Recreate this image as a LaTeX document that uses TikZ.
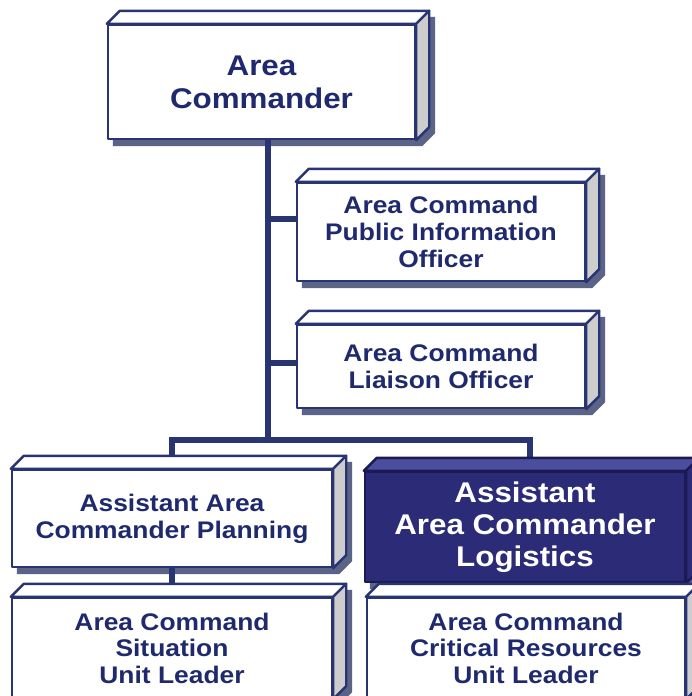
\documentclass[tikz,border=0pt]{standalone}
\usepackage{fontspec}
\setmainfont{Liberation Sans}[FakeStretch=1.1]
\usetikzlibrary{calc}

\definecolor{navytext}{HTML}{1F2A6E}
\definecolor{boxline}{HTML}{283572}
\definecolor{darkline}{HTML}{1B1A55}
\definecolor{darkfill}{HTML}{2C2B78}
\definecolor{darktop}{HTML}{4B4D9D}
\definecolor{sidegray}{HTML}{CDCDCD}
\definecolor{shadecol}{HTML}{5B6386}

\pgfdeclarelayer{shadows}
\pgfdeclarelayer{links}
\pgfsetlayers{shadows,links,main}

% top face, side face and drop shadow of a box
\newcommand{\cubesides}[4]{%
  \begin{pgfonlayer}{shadows}
    \fill[shadecol] ([shift={(6,6)}]#1.south west) -- ([shift={(6,6)}]#1.north west)
      -- ([shift={(19,-7)}]#1.north west) -- ([shift={(19,-7)}]#1.north east)
      -- ([shift={(19,-7)}]#1.south east) -- ([shift={(6,6)}]#1.south east) -- cycle;
  \end{pgfonlayer}
  \draw[boxedge, draw=#4, fill=#2] (#1.north west) -- ++(13,-13)
    -- ([shift={(13,-13)}]#1.north east) -- (#1.north east) -- cycle;
  \draw[boxedge, draw=#4, fill=#3] (#1.north east) -- ++(13,-13)
    -- ([shift={(13,-13)}]#1.south east) -- (#1.south east) -- cycle;
}

\begin{document}
\begin{tikzpicture}[x=1pt, y=-1pt,
  boxedge/.style={line width=2.4pt, line join=round},
  orgbox/.style={boxedge, draw=boxline, fill=white, inner sep=0pt, align=center,
    text=navytext, font=\bfseries\fontsize{24}{27}\selectfont},
  darkbox/.style={orgbox, draw=darkline, fill=darkfill, text=white},
  link/.style={line width=6pt, draw=boxline}]

  \useasboundingbox (0,0) rectangle (692,696);

  \node[orgbox, minimum width=307pt, minimum height=114pt,
    font=\bfseries\fontsize{28.5}{33}\selectfont] (cmdr) at (261.5,82) {Area\\Commander};
  \node[orgbox, minimum width=288pt, minimum height=98pt] (pio) at (441,232)
    {Area Command\\Public Information\\Officer};
  \node[orgbox, minimum width=288pt, minimum height=83pt] (liaison) at (441,366.5)
    {Area Command\\Liaison Officer};
  \node[orgbox, minimum width=320pt, minimum height=97pt] (plan) at (172,518.5)
    {Assistant Area\\Commander Planning};
  \node[darkbox, minimum width=320pt, minimum height=110pt,
    font=\bfseries\fontsize{28.5}{32}\selectfont] (logi) at (525,527)
    {Assistant\\Area Commander\\Logistics};
  \node[orgbox, minimum width=320pt, minimum height=100pt,
    font=\bfseries\fontsize{24}{26.5}\selectfont] (sit) at (172,648)
    {Area Command\\Situation\\Unit Leader};
  \node[orgbox, minimum width=318pt, minimum height=100pt,
    font=\bfseries\fontsize{24}{26.5}\selectfont] (crit) at (526,648)
    {Area Command\\Critical Resources\\Unit Leader};

  \cubesides{cmdr}{white}{sidegray}{boxline}
  \cubesides{pio}{white}{sidegray}{boxline}
  \cubesides{liaison}{white}{sidegray}{boxline}
  \cubesides{plan}{white}{sidegray}{boxline}
  \cubesides{logi}{darktop}{darkfill}{darkline}
  \cubesides{sit}{white}{sidegray}{boxline}
  \cubesides{crit}{white}{sidegray}{boxline}

  \coordinate (bus) at (268,440);
  \coordinate (busR) at (530,440);

  \begin{pgfonlayer}{links}
    \draw[link] (cmdr.south -| bus) -- (bus);
    \draw[link] ([yshift=13pt]pio.west) -- ([yshift=13pt]pio.west -| bus);
    \draw[link] ([yshift=4pt]liaison.west) -- ([yshift=4pt]liaison.west -| bus);
    \draw[link] (plan.north) |- (busR) -- (busR |- logi.north);
    \draw[link] (plan) -- (sit);
    \draw[link] (logi.south -| busR) -- (crit.north -| busR);
  \end{pgfonlayer}
\end{tikzpicture}
\end{document}
